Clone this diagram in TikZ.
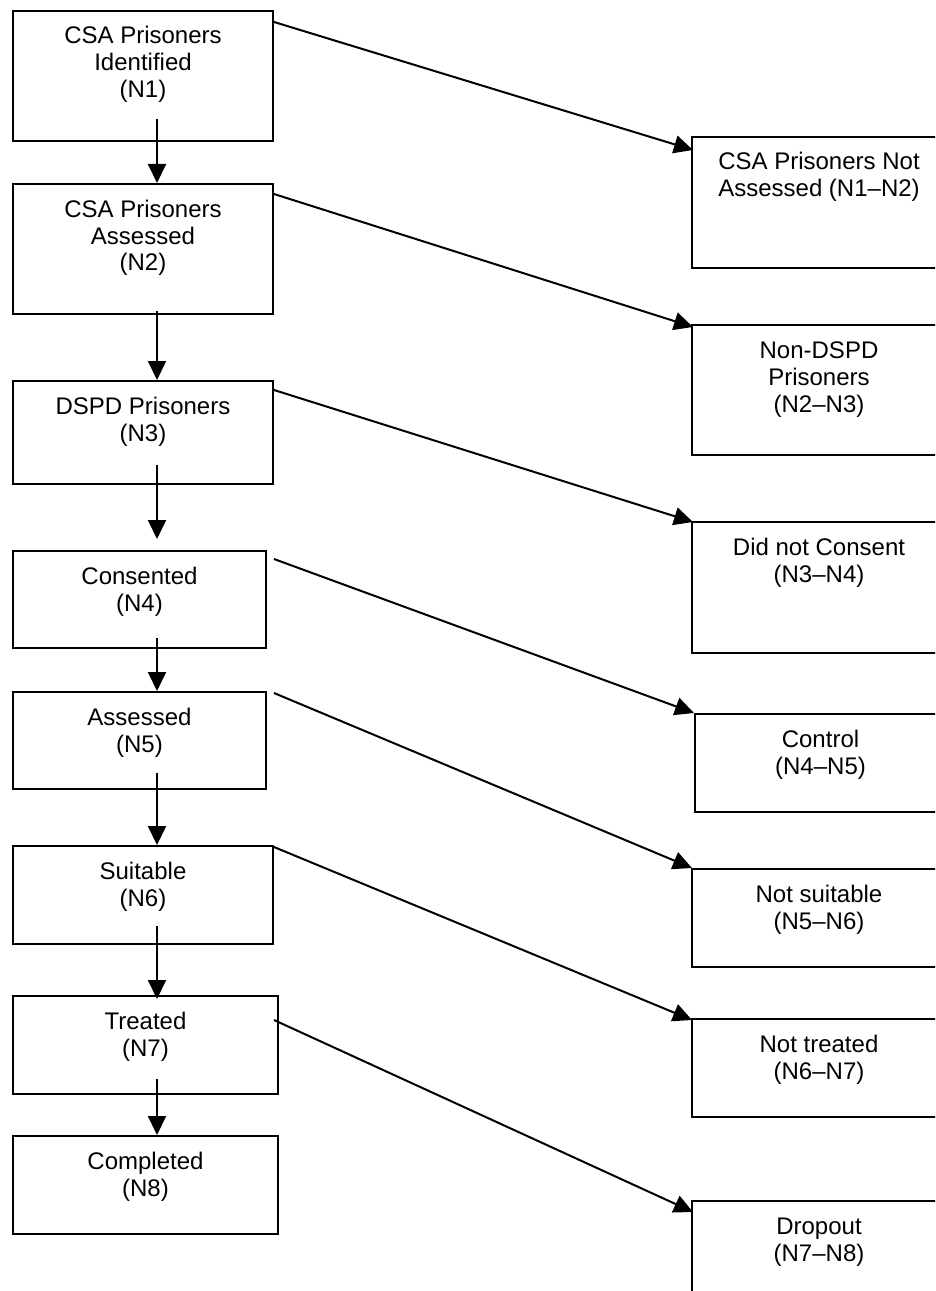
\documentclass[tikz,border=0pt]{standalone}
\usepackage{fontspec}
\setmainfont{Liberation Sans}
\usetikzlibrary{arrows.meta}
\newcommand\bxt[3]{\parbox[c][\dimexpr #2pt*3/4\relax][t]{\dimexpr #1pt*3/4\relax}{\centering\rule{0pt}{24.75pt}#3}}
\tikzset{
  box/.style={draw, line width=1.5pt, inner sep=0pt, anchor=north west, font=\fontsize{18pt}{20.25pt}\selectfont},
  arr/.style={line width=1.5pt, -{Triangle[length=14.25pt,width=13.5pt]}}
}
\begin{document}
\begin{tikzpicture}[x=0.75pt,y=-0.75pt]
\useasboundingbox (0,0) rectangle (935,1291);
\clip (0,0) rectangle (935,1291);
% left column
\node[box] (n1) at (12,10)   {\bxt{260}{130}{CSA Prisoners\\Identified\\(N1)}};
\node[box] (n2) at (12,183)  {\bxt{260}{130}{CSA Prisoners\\Assessed\\(N2)}};
\node[box] (n3) at (12,380)  {\bxt{260}{103}{DSPD Prisoners\\(N3)}};
\node[box] (n4) at (12,550)  {\bxt{253}{97}{Consented\\(N4)}};
\node[box] (n5) at (12,691)  {\bxt{253}{97}{Assessed\\(N5)}};
\node[box] (n6) at (12,845)  {\bxt{260}{98}{Suitable\\(N6)}};
\node[box] (n7) at (12,995)  {\bxt{265}{98}{Treated\\(N7)}};
\node[box] (n8) at (12,1135) {\bxt{265}{98}{Completed\\(N8)}};
% right column
\node[box] (r1) at (691,136)  {\bxt{254}{131}{CSA Prisoners Not\\Assessed (N1–N2)}};
\node[box] (r2) at (691,324)  {\bxt{254}{130}{Non-DSPD\\Prisoners\\(N2–N3)}};
\node[box] (r3) at (691,521)  {\bxt{254}{131}{Did not Consent\\(N3–N4)}};
\node[box] (r4) at (694,713)  {\bxt{251}{98}{Control\\(N4–N5)}};
\node[box] (r5) at (691,868)  {\bxt{254}{98}{Not suitable\\(N5–N6)}};
\node[box] (r6) at (691,1018) {\bxt{254}{98}{Not treated\\(N6–N7)}};
\node[box] (r7) at (691,1200) {\bxt{254}{131}{Dropout\\(N7–N8)}};
% vertical arrows
\draw[arr] ([shift={(145,-23)}]n1.south west) -- ([shift={(145,0)}]n2.north west);
\draw[arr] ([shift={(145,-4)}]n2.south west) -- ([shift={(145,0)}]n3.north west);
\draw[arr] ([shift={(145,-20)}]n3.south west) -- ([shift={(145,-11)}]n4.north west);
\draw[arr] ([shift={(145,-11)}]n4.south west) -- ([shift={(145,0)}]n5.north west);
\draw[arr] ([shift={(145,-17)}]n5.south west) -- ([shift={(145,0)}]n6.north west);
\draw[arr] ([shift={(145,-19)}]n6.south west) -- ([shift={(145,4)}]n7.north west);
\draw[arr] ([shift={(145,-16)}]n7.south west) -- ([shift={(145,0)}]n8.north west);
% diagonal arrows
\draw[arr] ([shift={(0,12)}]n1.north east) -- ([shift={(2,14)}]r1.north west);
\draw[arr] ([shift={(0,11)}]n2.north east) -- ([shift={(2,3)}]r2.north west);
\draw[arr] ([shift={(0,10)}]n3.north east) -- ([shift={(2,1)}]r3.north west);
\draw[arr] ([shift={(7,9)}]n4.north east) -- ([shift={(0,0)}]r4.north west);
\draw[arr] ([shift={(7,2)}]n5.north east) -- ([shift={(1,0)}]r5.north west);
\draw[arr] ([shift={(0,2)}]n6.north east) -- ([shift={(1,2)}]r6.north west);
\draw[arr] ([shift={(-5,25)}]n7.north east) -- ([shift={(2,12)}]r7.north west);
\end{tikzpicture}
\end{document}
